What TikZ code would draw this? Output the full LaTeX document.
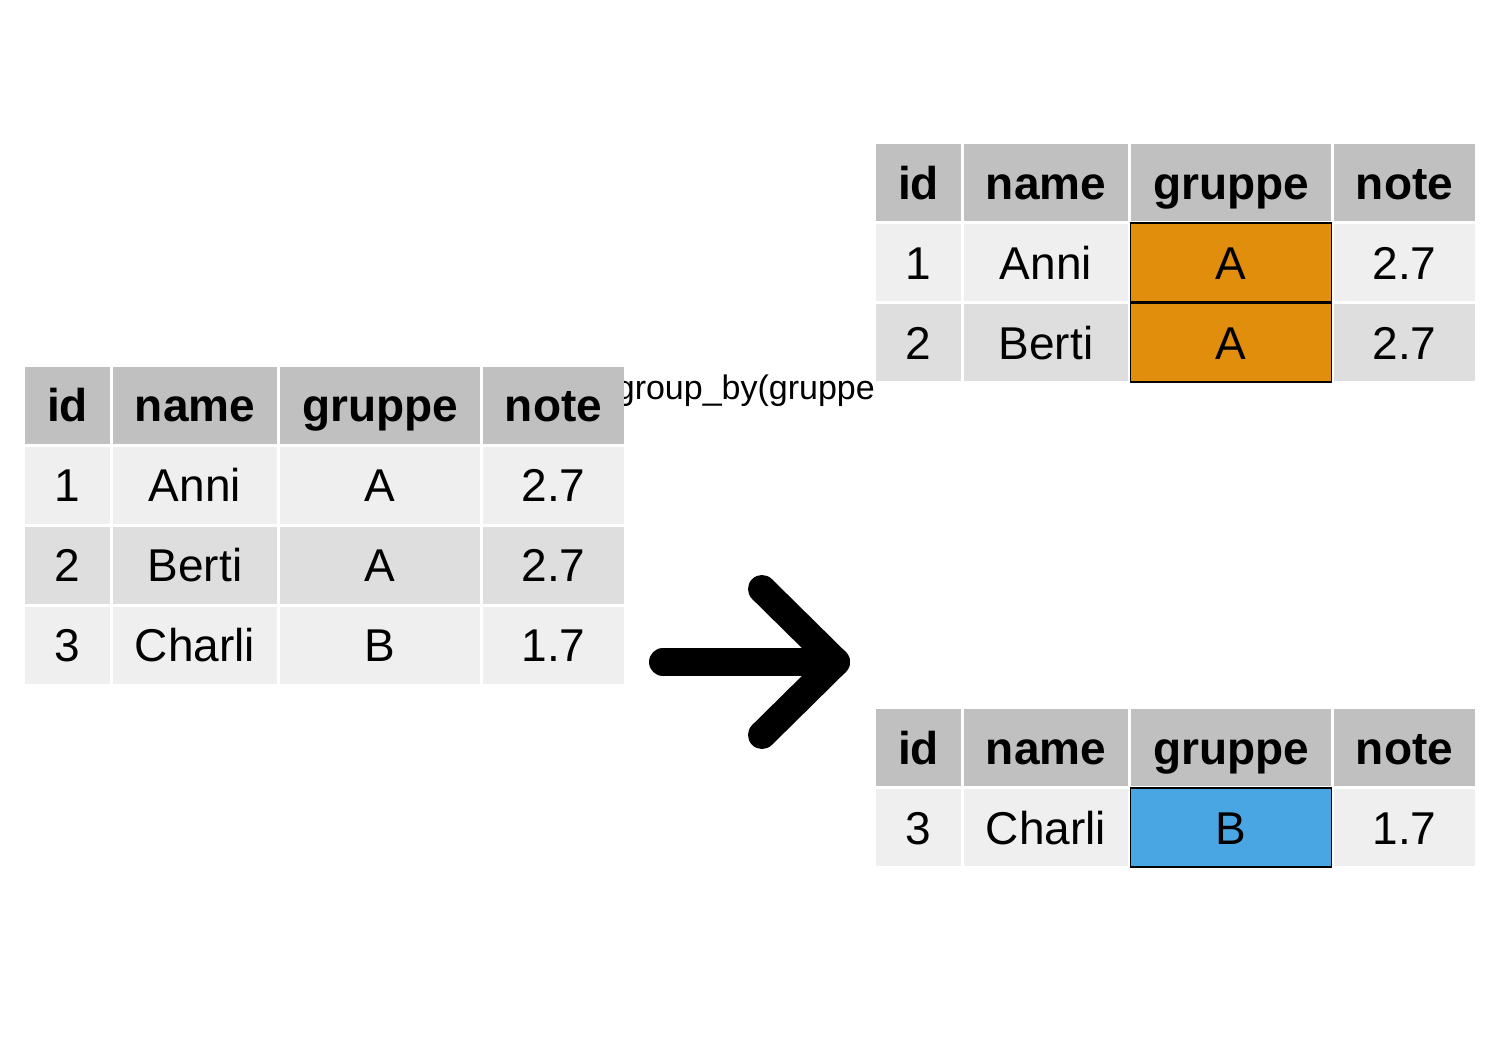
\documentclass[tikz,border=0pt]{standalone}
\usepackage{fontspec}
\setmainfont{Liberation Sans}
\definecolor{hdgray}{RGB}{192,192,192}
\definecolor{oddrow}{RGB}{239,239,239}
\definecolor{evenrow}{RGB}{222,222,222}
\definecolor{orangeC}{RGB}{224,142,11}
\definecolor{blueC}{RGB}{74,165,227}
\newcommand{\mkrow}[9]{%
  \node[#4, wid] (#1-id) at (#2+67.5,#3) {#5};
  \node[#4, wname] (#1-name) at (#2+195,#3) {#6};
  \node[#4, wgr, #9] (#1-gr) at (#2+380,#3) {#7};
  \node[#4, wnote] (#1-note) at (#2+553.5,#3) {#8};
}
\begin{document}
\begin{tikzpicture}[x=0.5pt,y=-0.5pt,
  cell/.style={inner sep=0pt, minimum height=38.5pt, text height=16.5pt, text depth=0pt,
    font=\fontsize{23pt}{27pt}\selectfont, anchor=center},
  hd/.style={cell, fill=hdgray, font=\fontsize{23pt}{27pt}\selectfont\bfseries},
  od/.style={cell, fill=oddrow},
  ev/.style={cell, fill=evenrow},
  wid/.style={minimum width=42.5pt},
  wname/.style={minimum width=82pt},
  wgr/.style={minimum width=100pt},
  wnote/.style={minimum width=70.5pt},
  plain/.style={},
  orangecell/.style={fill=orangeC, draw=black, line width=0.8pt, minimum width=100.5pt, minimum height=39.3pt},
  bluecell/.style={fill=blueC, draw=black, line width=0.8pt, minimum width=100.5pt, minimum height=39.3pt},
  lab/.style={font=\fontsize{17pt}{20pt}\selectfont, inner sep=0pt, anchor=base},
  arrowline/.style={line width=14pt, line cap=round, line join=round}
]
\useasboundingbox (0,0) rectangle (1500,1050);
\fill[white] (0,0) rectangle (1500,1050);
% label
\begin{scope}
  \clip (624.5,340) rectangle (873,420);
  \node[lab] (label) at (751,399) {group\_by(gruppe)};
\end{scope}
% left table
\mkrow{L0}{0}{405}{hd}{id}{name}{gruppe}{note}{plain}
\mkrow{L1}{0}{485}{od}{1}{Anni}{A}{2.7}{plain}
\mkrow{L2}{0}{565}{ev}{2}{Berti}{A}{2.7}{plain}
\mkrow{L3}{0}{645}{od}{3}{Charli}{B}{1.7}{plain}
% top right table
\mkrow{T0}{851}{182.5}{hd}{id}{name}{gruppe}{note}{plain}
\mkrow{T1}{851}{262.5}{od}{1}{Anni}{A}{2.7}{orangecell}
\mkrow{T2}{851}{342.5}{ev}{2}{Berti}{A}{2.7}{orangecell}
% bottom right table
\mkrow{B0}{851}{747.5}{hd}{id}{name}{gruppe}{note}{plain}
\mkrow{B1}{851}{827.5}{od}{3}{Charli}{B}{1.7}{bluecell}
% arrow
\coordinate (a0) at (663,662);
\coordinate (tip) at (836,662);
\coordinate (up) at (762,589);
\coordinate (dn) at (762,735);
\draw[arrowline] (a0) -- (tip);
\draw[arrowline] (up) -- (tip) -- (dn);
\end{tikzpicture}
\end{document}
